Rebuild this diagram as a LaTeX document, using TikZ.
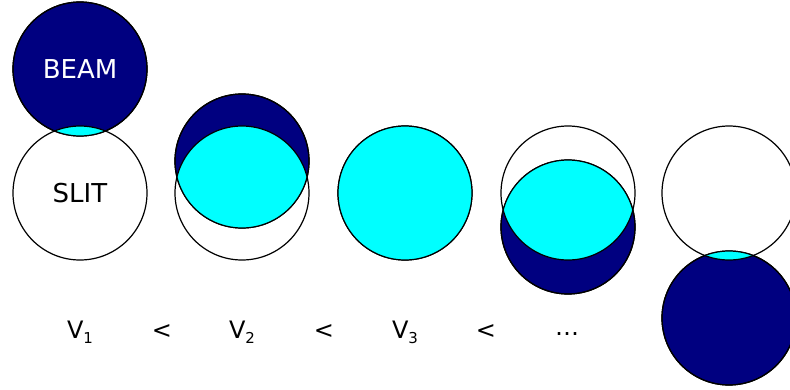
\documentclass[tikz,border=0pt]{standalone}
\usepackage{fontspec}
\setmainfont{DejaVu Sans}
\usetikzlibrary{positioning}

\definecolor{beamblue}{RGB}{0,0,128}
\definecolor{hitcyan}{RGB}{0,255,255}

\newcommand{\vsub}[1]{V\raisebox{-5pt}{\fontsize{15}{15}\selectfont #1}}

\begin{document}
\begin{tikzpicture}[x=1pt, y=-1pt,
    slit/.style={draw, circle, line width=1.2pt, minimum size=134pt, inner sep=0pt,
                font=\fontsize{26}{26}\selectfont},
    beam/.style={slit, fill=beamblue, text=white},
    speed/.style={font=\fontsize{24}{24}\selectfont, inner sep=0pt, anchor=base}
]
    \useasboundingbox (0,0) rectangle (790,389);

    % beams (filled first)
    \node[beam] (b1) at (80,69) {BEAM};
    \node[beam] (b2) at (242,161) {};
    \node[beam] (b3) at (405,193) {};
    \node[beam] (b4) at (568,227) {};
    \node[beam] (b5) at (729,318) {};

    % part of the beam that goes through the slit
    \begin{scope}
        \clip (80,193) circle (67pt);
        \fill[hitcyan] (b1.center) circle (67pt);
    \end{scope}
    \begin{scope}
        \clip (242,193) circle (67pt);
        \fill[hitcyan] (b2.center) circle (67pt);
    \end{scope}
    \begin{scope}
        \clip (405,193) circle (67pt);
        \fill[hitcyan] (b3.center) circle (67pt);
    \end{scope}
    \begin{scope}
        \clip (568,193) circle (67pt);
        \fill[hitcyan] (b4.center) circle (67pt);
    \end{scope}
    \begin{scope}
        \clip (729,193) circle (67pt);
        \fill[hitcyan] (b5.center) circle (67pt);
    \end{scope}

    % slits and outlines on top
    \node[slit] (s1) at (80,193) {SLIT};
    \node[slit] (s2) at (242,193) {};
    \node[slit] (s3) at (405,193) {};
    \node[slit] (s4) at (568,193) {};
    \node[slit] (s5) at (729,193) {};
    \draw[line width=1.2pt] (b1.center) circle (67pt);
    \draw[line width=1.2pt] (b2.center) circle (67pt);
    \draw[line width=1.2pt] (b4.center) circle (67pt);
    \draw[line width=1.2pt] (b5.center) circle (67pt);

    % speeds
    \node[speed] (v1) at (80,338) {\vsub{1}};
    \node[speed] (lt1) at (162,338) {<};
    \node[speed] (v2) at (242,338) {\vsub{2}};
    \node[speed] (lt2) at (324,338) {<};
    \node[speed] (v3) at (405,338) {\vsub{3}};
    \node[speed] (lt3) at (486,338) {<};
    \node[speed] (dots) at (567,335) {\dots};
\end{tikzpicture}
\end{document}
